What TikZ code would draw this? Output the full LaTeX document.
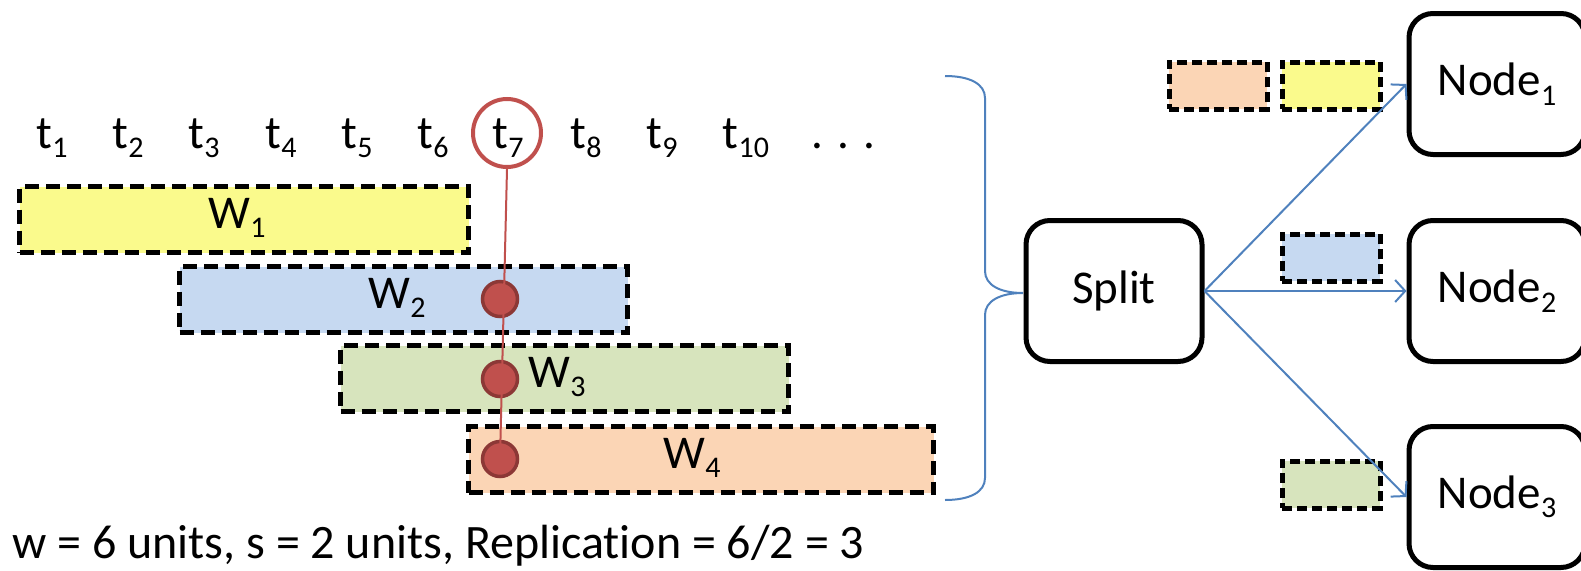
\documentclass[tikz,border=0pt]{standalone}
\usepackage{fontspec}
\setmainfont[Ligatures=NoCommon]{Carlito}
\usetikzlibrary{arrows.meta}
\definecolor{winyellow}{RGB}{250,250,140}
\definecolor{winblue}{RGB}{198,217,241}
\definecolor{wingreen}{RGB}{215,228,189}
\definecolor{winpeach}{RGB}{251,213,181}
\definecolor{markred}{RGB}{192,80,77}
\definecolor{markdark}{RGB}{140,56,54}
\definecolor{linkblue}{RGB}{79,129,189}

% lowered, smaller index digits
\newcommand\subidx[1]{\raisebox{-0.2em}{\fontsize{30}{30}\selectfont #1}}

\begin{document}
\begin{tikzpicture}[x=1pt,y=-1pt,
  every node/.style={font=\fontsize{47}{56}\selectfont},
  win/.style={draw=black, line width=5pt, dash pattern=on 14pt off 7pt, inner sep=0pt, anchor=north west, minimum height=66pt},
  chip/.style={win, line width=4.5pt, dash pattern=on 10pt off 5pt, minimum width=98pt, minimum height=47pt},
  proc/.style={draw=black, line width=5pt, rounded corners=24pt, minimum width=176pt, minimum height=141pt, inner sep=0pt},
  tlabel/.style={anchor=base, inner sep=0pt},
  hitdot/.style={circle, fill=markred, draw=markdark, line width=3.5pt, minimum size=35pt, inner sep=0pt},
  feed/.style={draw=linkblue, line width=2pt, -{Straight Barb[length=10pt,width=22pt,line width=2pt]}},
]
\useasboundingbox (0,0) rectangle (1581,570);

% time ticks
\foreach \x/\i in {52/1,128/2,204/3,281/4,357/5,433/6,508/7,586/8,662/9,746/10}
  \node[tlabel] (t\i) at (\x,148) {t\subidx{\i}};
\node[tlabel] (tdots) at (843,148) {. . .};
\node[draw=markred, line width=4pt, circle, minimum size=68pt, inner sep=0pt] (pick) at (507,133) {};

% sliding windows
\node[win, fill=winyellow, minimum width=449pt] (w1) at (17,184) {};
\node[win, fill=winblue,   minimum width=448pt] (w2) at (177,264) {};
\node[win, fill=wingreen,  minimum width=448pt] (w3) at (338,343) {};
\node[win, fill=winpeach,  minimum width=465pt] (w4) at (466,424) {};
\node[tlabel] (lw1) at (237,228) {W\subidx{1}};
\node[tlabel] (lw2) at (397,308) {W\subidx{2}};
\node[tlabel] (lw3) at (557,387) {W\subidx{3}};
\node[tlabel] (lw4) at (692,468) {W\subidx{4}};

% t7 falls in three windows
\node[hitdot] (d1) at (500,299) {};
\node[hitdot] (d2) at (500,379) {};
\node[hitdot] (d3) at (500,459) {};
\draw[markred, line width=2pt] (pick.south) -- (d3.center);

\node[anchor=base west, inner sep=0pt, font=\fontsize{48}{56}\selectfont] (note) at (12,558) {w = 6 units, s = 2 units, Replication = 6/2 = 3};

% brace gathering the windows
\draw[linkblue, line width=2pt]
  (945,76) .. controls (970,76) and (985,84) .. (985,98) -- (985,271)
  .. controls (985,285) and (1000,293) .. (1023,293)
  .. controls (1000,293) and (985,301) .. (985,315) -- (985,478)
  .. controls (985,492) and (970,500) .. (945,500);

% split and workers
\node[proc] (split) at (1114,291) {Split};
\node[proc] (n1) at (1497,84) {Node\subidx{1}};
\node[proc] (n2) at (1497,291) {Node\subidx{2}};
\node[proc] (n3) at (1497,497) {Node\subidx{3}};

\node[chip, fill=winpeach]  (c1) at (1167,60) {};
\node[chip, fill=winyellow] (c2) at (1280,60) {};
\node[chip, fill=winblue]   (c3) at (1280,232) {};
\node[chip, fill=wingreen]  (c4) at (1280,459) {};

\draw[feed] (split.east) -- (n1.west);
\draw[feed] (split.east) -- (n2.west);
\draw[feed] (split.east) -- (n3.west);
\end{tikzpicture}
\end{document}
